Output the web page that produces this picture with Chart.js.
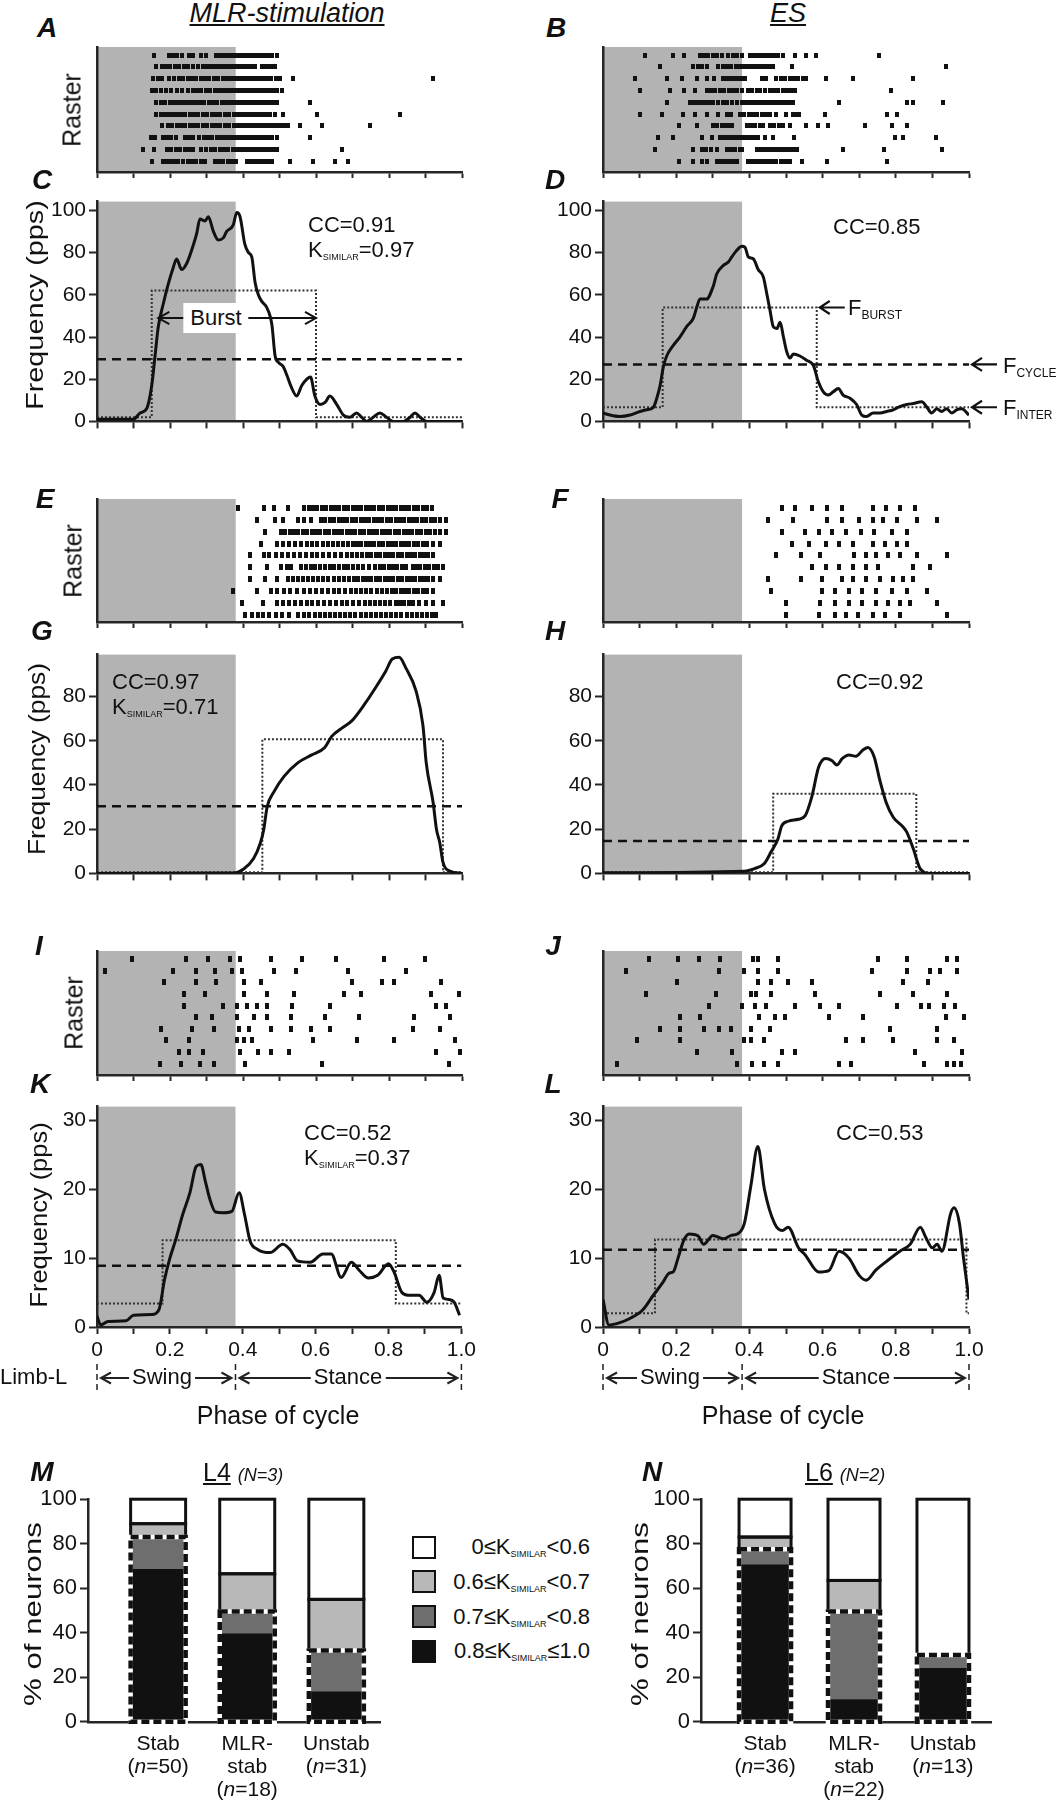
<!DOCTYPE html>
<html>
<head>
<meta charset="utf-8">
<script src="https://cdn.jsdelivr.net/npm/chart.js@4.4.1/dist/chart.umd.min.js"></script>
<style>
html, body { margin: 0; padding: 0; background: #fff; }
#fig { position: relative; width: 1061px; height: 1800px; overflow: hidden; font-family: 'Liberation Sans', Arial, Helvetica, sans-serif; color: #111; }
#fig canvas { position: absolute; z-index: 1; }
.t { position: absolute; z-index: 2; white-space: nowrap; line-height: 1; }
.t sub { font-size: 9px; vertical-align: -3px; line-height: 0; }
.t sub.f { font-size: 12px; vertical-align: -4px; }
.box { position: absolute; z-index: 2; box-sizing: border-box; width: 24px; height: 23px; border: 2px solid #111; }
</style>
</head>
<body>
<div id="fig"></div>
<script>
// ---- data ----
const swingEnd = 0.38;

// raster spike phases (x1000), one list per sweep, top sweep first
const rasterA = [
  [156,196,208,220,232,252,264,285,298,325,336,347,358,369,380,390,400,410,420,430,440,450,460,470,480,492],
  [163,178,190,200,215,226,238,250,262,278,290,300,312,322,332,342,352,362,372,382,392,402,412,422,432,452,462,472,482,488],
  [154,166,178,196,210,224,236,248,260,272,284,296,308,320,332,344,356,366,376,386,396,406,416,426,436,446,456,466,476,490,502,538,920],
  [150,162,176,190,202,220,234,250,262,274,286,298,310,322,334,346,356,366,376,386,396,406,416,426,436,446,456,466,476,486,492,506],
  [163,175,187,200,210,220,230,240,250,260,270,282,294,306,318,330,342,354,364,374,384,394,404,414,424,434,444,454,464,474,484,492,584],
  [163,174,185,196,207,218,230,242,254,266,278,290,302,314,326,338,350,362,374,384,394,404,414,424,434,444,454,464,474,488,509,602,830],
  [177,194,206,218,230,242,254,266,278,290,302,314,326,338,350,362,374,384,394,404,414,424,434,444,454,464,474,484,494,504,514,524,556,616,748],
  [147,158,180,192,204,216,240,252,264,280,292,304,316,328,340,350,360,370,380,390,400,410,420,430,440,450,460,470,480,492,584],
  [125,156,192,204,216,228,240,252,264,285,298,312,324,336,348,360,372,382,392,402,412,422,432,442,452,462,472,482,492,672],
  [152,180,190,200,210,222,236,248,260,272,284,296,322,334,346,358,370,382,410,420,430,440,450,460,470,480,529,593,652,689]
];
const rasterB = [
  [115,192,222,265,276,288,300,312,324,342,354,366,379,402,412,422,432,442,452,462,472,479,493,525,556,582,755],
  [156,247,259,271,283,315,327,339,351,363,374,384,394,404,414,424,434,444,454,465,517,937],
  [87,174,215,256,283,303,329,339,349,359,369,379,388,434,446,474,486,498,511,522,534,546,556,609,682,848],
  [101,183,221,251,283,295,307,319,331,343,355,367,379,397,408,420,429,443,455,467,479,491,503,515,525,786],
  [174,238,249,260,271,282,293,301,315,327,340,352,365,379,389,399,409,419,429,439,449,459,469,479,489,499,510,520,645,830,848,928],
  [101,160,219,251,283,315,338,350,374,386,398,410,420,434,446,456,474,500,520,530,536,607,775,802],
  [209,256,301,312,324,336,347,352,393,404,416,428,438,456,468,480,493,511,555,588,616,716,789,830],
  [151,192,270,299,320,331,342,353,364,375,386,397,408,419,424,443,465,522,798,821,910],
  [142,247,270,282,294,311,338,350,362,374,379,420,431,442,453,464,475,486,497,508,519,529,657,768,925],
  [209,247,270,283,311,322,333,344,355,365,397,408,419,430,441,452,463,474,485,496,507,511,545,611,775]
];
const rasterE = [
  [386,457,485,522,568,580,592,604,616,628,640,652,664,676,688,700,712,724,736,748,760,772,784,796,808,820,832,844,856,868,880,892,904,918],
  [438,488,510,550,566,587,614,626,638,650,662,674,686,698,710,722,734,746,758,770,782,794,806,818,830,842,854,866,878,890,902,914,926,939,957],
  [461,503,516,528,540,552,564,576,588,600,612,624,636,648,660,672,684,696,708,720,732,744,756,768,780,792,804,816,828,840,852,864,876,888,900,912,926,939,957],
  [448,494,510,526,542,558,574,590,604,618,632,646,660,674,688,700,712,724,736,748,760,772,784,796,808,820,832,844,856,868,880,892,904,920,939],
  [420,457,472,490,506,522,540,556,572,588,604,620,636,652,668,684,698,712,726,740,752,764,776,788,800,812,824,836,848,860,872,884,896,908,920],
  [420,466,503,520,531,559,572,585,598,611,624,637,650,663,676,689,702,715,728,744,763,775,787,799,811,823,835,847,865,874,886,898,910,922,934,948],
  [420,461,494,522,536,550,564,578,592,606,620,634,648,662,676,690,704,716,728,740,752,764,776,788,800,812,824,836,848,860,872,884,896,908,920,939],
  [373,438,476,494,512,530,548,566,584,600,616,632,648,664,680,696,710,724,738,752,766,780,794,808,820,832,844,856,868,880,892,904,920],
  [398,454,494,510,526,542,558,574,590,606,622,638,654,670,686,702,718,734,748,762,776,790,804,818,830,842,854,865,883,900,920,948],
  [405,424,440,456,472,490,508,526,550,568,582,596,610,624,638,652,666,680,694,708,722,736,750,764,778,792,806,820,834,848,862,876,890,904,918,929]
];
const rasterF = [
  [488,525,571,612,654,737,774,811,852],
  [451,519,612,654,700,737,765,802,857,913],
  [488,553,590,627,663,704,741,789,830],
  [516,562,608,645,682,737,771,802,830],
  [473,542,592,685,718,746,778,811,857,941],
  [571,608,645,682,718,752,848,894],
  [451,542,597,654,682,718,756,793,820,848],
  [460,597,634,671,708,745,789,830,885],
  [501,592,634,671,708,745,778,811,839,913],
  [501,590,634,663,697,737,771,811,941]
];
const rasterI = [
  [96,244,303,364,392,476,563,656,785,898],
  [21,207,272,323,370,398,485,544,689,846],
  [183,272,327,402,448,698,782,813,942],
  [238,296,402,466,540,676,722,916,991],
  [238,346,383,411,438,466,535,637,930,957],
  [272,314,383,429,466,531,624,717,869,967],
  [175,259,320,388,416,476,531,587,639,865,939],
  [188,253,383,402,424,592,713,815,980],
  [225,253,290,392,442,476,527,930,995],
  [173,231,281,320,405,616,965]
];
const rasterJ = [
  [127,205,261,321,410,423,478,750,830,941,968],
  [62,316,386,423,478,734,830,894,922,968],
  [201,423,460,506,571,820,889],
  [118,308,404,419,460,580,756,848,941],
  [290,381,414,445,525,593,645,802,870,891,931,962],
  [210,266,427,469,497,617,710,937,987],
  [155,210,275,316,349,404,457,784,913],
  [94,210,386,404,441,663,710,793,913,959],
  [257,353,488,525,852,981],
  [38,367,408,441,478,645,678,876,941,959,978]
];

// firing-frequency profiles (phase, pps)
const phaseC = [0,0.05,0.10,0.118,0.136,0.150,0.159,0.168,0.182,0.195,0.209,0.218,0.232,0.246,0.259,0.273,0.282,0.296,0.305,0.319,0.332,0.346,0.355,0.373,0.383,0.392,0.405,0.415,0.424,0.433,0.442,0.451,0.465,0.479,0.488,0.497,0.510,0.520,0.533,0.547,0.561,0.575,0.585,0.597,0.611,0.625,0.638,0.657,0.675,0.693,0.711,0.725,0.739,0.757,0.775,0.793,0.812,0.839,0.858,0.871,0.885,0.903,1.0];
const freqC  = [1,1,1,4,6,17,31,45,56,65,73,77,72,75,81,89,96,95,97,90,86,87,90,93,99,97,84,80,78,66,60,57,54,46,31,28,26,22,16,12,17,20,21,12,8,9,12,8,3,2,4,2,0,2,4,2,0,0,2,4,2,0,0];
const phaseD = [0,0.019,0.046,0.074,0.101,0.119,0.137,0.147,0.156,0.165,0.174,0.192,0.210,0.229,0.247,0.256,0.265,0.283,0.301,0.311,0.329,0.342,0.352,0.365,0.379,0.388,0.397,0.411,0.424,0.438,0.447,0.456,0.465,0.475,0.484,0.493,0.502,0.511,0.520,0.538,0.556,0.575,0.588,0.602,0.616,0.629,0.643,0.656,0.675,0.693,0.707,0.720,0.738,0.757,0.775,0.793,0.811,0.830,0.848,0.871,0.884,0.898,0.912,0.925,0.939,0.953,0.966,0.980,1.0];
const freqD  = [4,3,2.3,3,4.7,5.5,6.5,11,17,26,31,36,40,45,49,54,58,58,64,70,74,75.5,78,81,83,82.5,78,77,72,68.5,61,53,45,44,47,40,33,30,32,31,29,26.5,19,14,12.5,14,15.6,12.5,11,8,3,2.3,4,4,4.7,5.5,7,8,8.5,9.3,7,4,6,4.7,6,4,5.5,6,3];
const phaseG = [0,0.374,0.402,0.429,0.448,0.457,0.466,0.485,0.513,0.550,0.587,0.624,0.643,0.670,0.698,0.735,0.763,0.791,0.809,0.828,0.846,0.874,0.893,0.902,0.921,0.930,0.939,0.948,0.967,1.0];
const freqG  = [0,0.2,2,6.7,14,20,30,37,44,50,53.5,57,62,65.6,69,77,84,91.5,97,97.8,93,82.6,67,50,32,20,14,5,1,0];
const phaseH = [0,0.386,0.414,0.441,0.460,0.478,0.488,0.506,0.534,0.552,0.571,0.589,0.608,0.626,0.639,0.654,0.672,0.691,0.710,0.724,0.741,0.756,0.774,0.793,0.820,0.830,0.848,0.867,0.894,1.0];
const freqH  = [0.3,1,2.2,4.5,10,15.6,21.4,23.6,24.5,26,35,48,52,51,49,52,53.6,53,55.8,57,52.7,42.4,32,25.4,21,18.7,11,2,0,0];
const phaseK = [0,0.01,0.03,0.08,0.10,0.15,0.17,0.185,0.20,0.215,0.235,0.255,0.272,0.285,0.298,0.31,0.325,0.345,0.37,0.39,0.405,0.42,0.44,0.475,0.51,0.53,0.55,0.585,0.62,0.643,0.67,0.698,0.72,0.745,0.77,0.80,0.815,0.837,0.86,0.884,0.905,0.925,0.939,0.95,0.965,0.98,0.995];
const freqK  = [1.6,0.3,0.8,0.9,1.7,1.8,2.5,6.8,10,12.5,16.3,19.5,23.3,23.6,21,18.5,16.7,16.6,16.8,19.5,16.3,12.5,11.3,10.8,12,11.2,9.6,9.4,10.6,10.6,7.2,9.4,8.2,7.1,7.5,9.2,8,5,4.6,4.6,3.6,5,7.5,4.2,4,3.6,1.7];
const phaseL = [0,0.016,0.044,0.072,0.109,0.136,0.164,0.18,0.192,0.205,0.22,0.235,0.26,0.275,0.30,0.33,0.35,0.367,0.386,0.404,0.423,0.441,0.469,0.49,0.506,0.534,0.552,0.589,0.617,0.645,0.672,0.70,0.719,0.746,0.774,0.811,0.839,0.867,0.882,0.90,0.913,0.926,0.95,0.959,0.974,0.985,1.0];
const freqL  = [4,0.3,0.6,1.2,2.5,4.5,6.5,7.8,8,10,12.5,13.5,13.2,12,13.3,12.8,13.3,13.5,15,20.5,26.2,20,15,14,14.5,11.5,10.5,8,8.2,11,10,7.5,6.8,8.3,9.5,11,12,14.5,13,11.5,12,11,16.5,17.3,15,10,4];

// burst / inter-burst step profiles and mean cycle frequency
const stepC_x = [0,0.15,0.15,0.60,0.60,1];     const stepC_y = [2,2,62,62,2,2];
const stepD_x = [0,0.163,0.163,0.584,0.584,1]; const stepD_y = [6.7,6.7,54,54,6.7,6.7];
const stepG_x = [0,0.453,0.453,0.948,0.948,1]; const stepG_y = [0.5,0.5,60.7,60.7,0.5,0.5];
const stepH_x = [0,0.465,0.465,0.856,0.856,1]; const stepH_y = [0.5,0.5,36,36,0.5,0.5];
const stepK_x = [0,0.18,0.18,0.82,0.82,1];     const stepK_y = [3.4,3.4,12.6,12.6,3.4,3.4];
const stepL_x = [0,0.142,0.142,0.993,0.993,1]; const stepL_y = [2,2,12.7,12.7,2,2];
const fCycle = { C: 29.5, D: 27, G: 30.4, H: 14.7, K: 8.9, L: 11.2 };

// y tick labels
const ticksCD = [0, 20, 40, 60, 80, 100];
const ticksGH = [0, 20, 40, 60, 80];
const ticksKL = [0, 10, 20, 30];
const ticksPct = [0, 20, 40, 60, 80, 100];

// K_SIMILAR distribution (% of neurons), bins from most to least similar
const groups = [['Stab'], ['MLR-', 'stab'], ['Unstab']];
const nL4 = [50, 18, 31];
const nL6 = [36, 22, 13];
const l4High = [68.5, 39.5, 13.5];
const l4Mid  = [14.5, 10, 18.5];
const l4Low  = [6, 17, 23];
const l4Rest = [11, 33.5, 45];
const l6High = [70.5, 10, 24];
const l6Mid  = [7, 39.5, 6];
const l6Low  = [5.5, 14, 0];
const l6Rest = [17, 36.5, 70];
const binLabels = ['0.8≤K<sub>SIMILAR</sub>≤1.0', '0.7≤K<sub>SIMILAR</sub>&lt;0.8', '0.6≤K<sub>SIMILAR</sub>&lt;0.7', '0≤K<sub>SIMILAR</sub>&lt;0.6'];
const binColors = ['#111111', '#6e6e6e', '#b8b8b8', '#ffffff'];

// ---- helpers ----
Chart.defaults.font.family = "'Liberation Sans', Arial, Helvetica, sans-serif";
Chart.defaults.font.size = 21;
Chart.defaults.color = '#111';

const fig = document.getElementById('fig');
const axisColor = '#262626';

function xy(xs, ys) { return xs.map((x, i) => ({ x: x, y: ys[i] })); }

function rasterPoints(rows) {
  const pts = [];
  rows.forEach((row, i) => row.forEach(p => pts.push({ x: p / 1000, y: rows.length - i })));
  return pts;
}

function dotImage(w, h) {
  const c = document.createElement('canvas');
  c.width = w; c.height = h;
  const g = c.getContext('2d');
  g.fillStyle = '#111';
  g.fillRect(0, 0, w, h);
  return c;
}

function addCanvas(left, top, width, height) {
  const c = document.createElement('canvas');
  c.width = width; c.height = height;
  c.style.left = left + 'px'; c.style.top = top + 'px';
  c.style.width = width + 'px'; c.style.height = height + 'px';
  fig.appendChild(c);
  return c;
}

function put(html, x, cy, size, css) {
  const d = document.createElement('div');
  d.className = 't';
  d.innerHTML = html;
  d.style.fontSize = size + 'px';
  d.style.left = x + 'px';
  d.style.top = (cy - size / 2) + 'px';
  Object.assign(d.style, css || {});
  fig.appendChild(d);
  return d;
}

function putRot(text, cx, cy, size, stretch) {
  const d = put(text, cx, cy, size);
  d.style.top = cy + 'px';
  d.style.transform = 'translate(-50%, -50%) rotate(-90deg) scaleX(' + stretch + ')';
  return d;
}

function arrowLine(ctx, a, b, y, h) {
  ctx.beginPath();
  ctx.moveTo(a, y); ctx.lineTo(b, y);
  ctx.moveTo(a + h, y - h * 0.55); ctx.lineTo(a, y); ctx.lineTo(a + h, y + h * 0.55);
  ctx.moveTo(b - h, y - h * 0.55); ctx.lineTo(b, y); ctx.lineTo(b - h, y + h * 0.55);
  ctx.stroke();
}

// swing phase shading
const phaseShade = {
  id: 'phaseShade',
  beforeDraw(chart, args, opts) {
    const { ctx, chartArea: a, scales: { x } } = chart;
    const x1 = x.getPixelForValue(opts.until);
    ctx.save();
    ctx.fillStyle = '#b3b3b3';
    ctx.fillRect(a.left, a.top, x1 - a.left, a.bottom - a.top);
    ctx.restore();
  }
};

// double-headed span arrow ("Burst")
const spanArrow = {
  id: 'spanArrow',
  afterDatasetsDraw(chart, args, opts) {
    if (!opts.span) return;
    const { ctx, scales: { x, y } } = chart;
    ctx.save();
    ctx.strokeStyle = '#111'; ctx.lineWidth = 2;
    arrowLine(ctx, x.getPixelForValue(opts.span[0]), x.getPixelForValue(opts.span[1]), y.getPixelForValue(opts.span[2]), 11);
    ctx.restore();
  }
};

// left-pointing arrows marking the F levels
const levelArrows = {
  id: 'levelArrows',
  afterDraw(chart, args, opts) {
    if (!opts.items) return;
    const { ctx, scales: { x, y } } = chart;
    ctx.save();
    ctx.strokeStyle = '#111'; ctx.lineWidth = 2.2;
    opts.items.forEach(it => {
      const a = x.getPixelForValue(it[0]) + 3, py = y.getPixelForValue(it[1]);
      ctx.beginPath();
      ctx.moveTo(a, py); ctx.lineTo(a + 25, py);
      ctx.moveTo(a + 10, py - 6.5); ctx.lineTo(a, py); ctx.lineTo(a + 10, py + 6.5);
      ctx.stroke();
    });
    ctx.restore();
  }
};

// swing / stance row under the phase axis
const limbRow = {
  id: 'limbRow',
  afterDraw(chart, args, opts) {
    if (!opts.marks) return;
    const { ctx, scales: { x } } = chart;
    const top = x.bottom + 1;
    const px = opts.marks.map(m => x.getPixelForValue(m));
    ctx.save();
    ctx.strokeStyle = '#222'; ctx.lineWidth = 1.5; ctx.setLineDash([6, 4]);
    px.forEach(p => { ctx.beginPath(); ctx.moveTo(p, top); ctx.lineTo(p, top + 30); ctx.stroke(); });
    ctx.setLineDash([]); ctx.lineWidth = 2;
    for (let i = 0; i < px.length - 1; i++) arrowLine(ctx, px[i] + 4, px[i + 1] - 4, top + 14, 10);
    ctx.restore();
  }
};

// outlines of the stacked bars: solid for dissimilar bins, dashed around similar ones
const binOutline = {
  id: 'binOutline',
  afterDatasetsDraw(chart) {
    const { ctx, scales: { y } } = chart;
    const sets = chart.data.datasets;
    const meta = chart.getDatasetMeta(0);
    meta.data.forEach((el, j) => {
      const w = el.width, left = el.x - w / 2;
      const v = sets.map(s => s.data[j].y);
      const ySim = y.getPixelForValue(v[0] + v[1]);
      const yLow = y.getPixelForValue(v[0] + v[1] + v[2]);
      const yTop = y.getPixelForValue(v[0] + v[1] + v[2] + v[3]);
      const y0 = y.getPixelForValue(0);
      ctx.save();
      ctx.strokeStyle = '#111'; ctx.lineWidth = 3;
      if (v[2] > 0) ctx.strokeRect(left, yLow, w, ySim - yLow);
      ctx.strokeRect(left, yTop, w, yLow - yTop);
      ctx.lineWidth = 4.5;
      ctx.strokeStyle = '#fff';
      ctx.strokeRect(left, ySim, w, y0 - ySim);
      ctx.strokeStyle = '#111'; ctx.setLineDash([8, 4]);
      ctx.strokeRect(left, ySim, w, y0 - ySim);
      ctx.restore();
    });
  }
};

// ---- layout ----
const cols = [
  { left: 0, width: 480, axisW: 97, padR: 18 },
  { left: 520, width: 541, axisW: 83, padR: 92 }
];

function phaseAxis(h, tickLen, labels) {
  return {
    type: 'linear', min: 0, max: 1,
    ticks: {
      stepSize: 0.1, display: labels, autoSkip: false, maxRotation: 0, padding: 4,
      callback: v => { const k = Math.round(v * 10); return k % 2 ? '' : (k === 0 ? '0' : (k / 10).toFixed(1)); }
    },
    grid: { display: true, drawOnChartArea: false, drawTicks: true, tickLength: tickLen, tickWidth: 2, tickColor: axisColor },
    border: { display: true, color: axisColor, width: 2.5 },
    afterFit: s => { s.height = h; }
  };
}

function rasterChart(col, top, plotH, rows, yRange, dot) {
  const c = cols[col];
  const padT = 4, axisH = 8;
  const canvas = addCanvas(c.left, top - padT, c.width, padT + plotH + axisH);
  return new Chart(canvas, {
    type: 'scatter',
    data: { datasets: [{ data: rasterPoints(rows), pointStyle: dot, pointRadius: 3, pointHoverRadius: 3 }] },
    options: {
      responsive: false, animation: false, events: [],
      layout: { padding: { left: 0, top: padT, right: c.padR, bottom: 0 } },
      plugins: { legend: { display: false }, tooltip: { enabled: false }, phaseShade: { until: swingEnd } },
      scales: {
        x: phaseAxis(axisH, 6, false),
        y: {
          min: yRange[0], max: yRange[1],
          ticks: { display: false }, grid: { display: false },
          border: { display: true, color: axisColor, width: 2.5 },
          afterFit: s => { s.width = c.axisW; }
        }
      }
    },
    plugins: [phaseShade]
  });
}

function freqChart(col, top, plotH, d) {
  const c = cols[col];
  const padT = 14;
  const axisH = d.labels ? 36 : 14;
  const padB = d.limb ? 42 : 0;
  const canvas = addCanvas(c.left, top - padT, c.width, padT + plotH + axisH + padB);
  return new Chart(canvas, {
    type: 'line',
    data: {
      datasets: [
        { data: xy(d.x, d.y), borderColor: '#111', borderWidth: 3, pointRadius: 0, cubicInterpolationMode: 'monotone', order: 0 },
        { data: xy([0, 1], [d.cycle, d.cycle]), borderColor: '#111', borderWidth: 2.5, borderDash: [9, 6], pointRadius: 0, order: 1 },
        { data: xy(d.stepX, d.stepY), borderColor: '#333', borderWidth: 2, borderDash: [2, 2], pointRadius: 0, tension: 0, order: 2 }
      ]
    },
    options: {
      responsive: false, animation: false, events: [],
      layout: { padding: { left: 0, top: padT, right: c.padR, bottom: padB } },
      plugins: {
        legend: { display: false }, tooltip: { enabled: false },
        phaseShade: { until: swingEnd },
        spanArrow: { span: d.span },
        levelArrows: { items: d.arrows },
        limbRow: { marks: d.limb ? [0, swingEnd, 1] : null }
      },
      scales: {
        x: phaseAxis(axisH, 7, !!d.labels),
        y: {
          min: 0, max: d.ymax,
          ticks: { padding: 3 },
          afterBuildTicks: s => { s.ticks = d.yticks.map(v => ({ value: v })); },
          grid: { display: true, drawOnChartArea: false, tickLength: 8, tickWidth: 2, tickColor: axisColor },
          border: { display: true, color: axisColor, width: 2.5 },
          afterFit: s => { s.width = c.axisW; }
        }
      }
    },
    plugins: [phaseShade, spanArrow, levelArrows, limbRow]
  });
}

function binChart(left, axisW, plotRight, series, xRange, barW, counts) {
  const padT = 14, padB = 14, axisH = 2, plotH = 225, top = 1497;
  const width = plotRight - left + 6;
  const canvas = addCanvas(left, top - padT, width, padT + plotH + axisH + padB);
  const chart = new Chart(canvas, {
    type: 'bar',
    data: {
      datasets: series.map((vals, i) => ({
        data: vals.map((v, j) => ({ x: j, y: v })),
        backgroundColor: binColors[i], borderWidth: 0, barThickness: barW
      }))
    },
    options: {
      responsive: false, animation: false, events: [],
      layout: { padding: { left: 0, top: padT, right: 6, bottom: padB } },
      plugins: { legend: { display: false }, tooltip: { enabled: false } },
      scales: {
        x: {
          type: 'linear', min: xRange[0], max: xRange[1], stacked: true, offset: false,
          ticks: { display: false }, grid: { display: false },
          border: { display: true, color: axisColor, width: 2.5 },
          afterFit: s => { s.height = axisH; }
        },
        y: {
          stacked: true, min: 0, max: 100,
          ticks: { padding: 3, font: { size: 22 } },
          afterBuildTicks: s => { s.ticks = ticksPct.map(v => ({ value: v })); },
          grid: { display: true, drawOnChartArea: false, tickLength: 8, tickWidth: 2, tickColor: axisColor },
          border: { display: true, color: axisColor, width: 2.5 },
          afterFit: s => { s.width = axisW; }
        }
      }
    },
    plugins: [binOutline]
  });
  // category labels under each bar
  chart.getDatasetMeta(0).data.forEach((el, j) => {
    const lines = groups[j].concat(['(<i>n</i>=' + counts[j] + ')']);
    lines.forEach((ln, k) => put(ln, left + el.x, 1742 + 23 * k, 21, { transform: 'translateX(-50%)' }));
  });
  return chart;
}

// ---- charts ----
const dotBig = dotImage(4, 5);
const dotTall = dotImage(4, 6);

rasterChart(0, 47, 125, rasterA, [0.09, 10.68], dotBig);
rasterChart(1, 47, 125, rasterB, [0.09, 10.68], dotBig);
freqChart(0, 200, 223, { x: phaseC, y: freqC, cycle: fCycle.C, stepX: stepC_x, stepY: stepC_y, ymax: 104.2, yticks: ticksCD, span: [0.168, 0.6, 49] });
freqChart(1, 200, 223, { x: phaseD, y: freqD, cycle: fCycle.D, stepX: stepD_x, stepY: stepD_y, ymax: 104.2, yticks: ticksCD,
  arrows: [[stepD_x[3], stepD_y[3]], [1, fCycle.D], [1, stepD_y[5]]] });

rasterChart(0, 499, 123, rasterE, [0.37, 10.76], dotTall);
rasterChart(1, 499, 123, rasterF, [0.37, 10.76], dotTall);
freqChart(0, 653, 222, { x: phaseG, y: freqG, cycle: fCycle.G, stepX: stepG_x, stepY: stepG_y, ymax: 99, yticks: ticksGH });
freqChart(1, 653, 222, { x: phaseH, y: freqH, cycle: fCycle.H, stepX: stepH_x, stepY: stepH_y, ymax: 99, yticks: ticksGH });

rasterChart(0, 951, 124, rasterI, [0.01, 10.71], dotTall);
rasterChart(1, 951, 124, rasterJ, [0.01, 10.71], dotTall);
freqChart(0, 1105, 222, { x: phaseK, y: freqK, cycle: fCycle.K, stepX: stepK_x, stepY: stepK_y, ymax: 32, yticks: ticksKL, labels: true, limb: true });
freqChart(1, 1105, 222, { x: phaseL, y: freqL, cycle: fCycle.L, stepX: stepL_x, stepY: stepL_y, ymax: 32, yticks: ticksKL, labels: true, limb: true });

binChart(0, 88, 380, [l4High, l4Mid, l4Low, l4Rest], [-0.787, 2.49], 55, nL4);
binChart(600, 101, 991, [l6High, l6Mid, l6Low, l6Rest], [-0.72, 2.54], 52, nL6);

// ---- text ----
const center = { transform: 'translateX(-50%)' };
const letter = { fontWeight: 'bold', fontStyle: 'italic', transform: 'translateX(-50%)' };

put('MLR-stimulation', 287, 13, 27, { fontStyle: 'italic', textDecoration: 'underline', transform: 'translateX(-50%)' });
put('ES', 788, 13, 27, { fontStyle: 'italic', textDecoration: 'underline', transform: 'translateX(-50%)' });

[['A', 47, 28], ['B', 556, 28], ['C', 42, 180], ['D', 555, 180], ['E', 45, 499], ['F', 560, 499],
 ['G', 42, 631], ['H', 555, 631], ['I', 39, 946], ['J', 553, 946], ['K', 40, 1084], ['L', 553, 1084],
 ['M', 42, 1472], ['N', 652, 1472]].forEach(l => put(l[0], l[1], l[2], 28, letter));

putRot('Raster', 72, 110, 25, 1);
putRot('Raster', 73, 561, 25, 1);
putRot('Raster', 74, 1013, 25, 1);
putRot('Frequency (pps)', 35, 305, 24, 1.2);
putRot('Frequency (pps)', 37, 759, 24, 1.1);
putRot('Frequency (pps)', 39, 1215, 24, 1.06);
putRot('% of neurons', 33, 1614, 24, 1.3);
putRot('% of neurons', 640, 1614, 24, 1.3);

put('CC=0.91', 308, 225, 22);
put('K<sub>SIMILAR</sub>=0.97', 308, 250, 22);
put('Burst', 216, 318, 22, { background: '#fff', padding: '4px 7px', marginTop: '-4px', transform: 'translateX(-50%)' });
put('CC=0.85', 833, 227, 22);
put('F<sub class="f">BURST</sub>', 848, 308, 22);
put('F<sub class="f">CYCLE</sub>', 1003, 366, 22);
put('F<sub class="f">INTER</sub>', 1003, 408, 22);
put('CC=0.97', 112, 682, 22);
put('K<sub>SIMILAR</sub>=0.71', 112, 707, 22);
put('CC=0.92', 836, 682, 22);
put('CC=0.52', 304, 1133, 22);
put('K<sub>SIMILAR</sub>=0.37', 304, 1158, 22);
put('CC=0.53', 836, 1133, 22);

put('Limb-L', 0, 1377, 22);
const gap = { background: '#fff', padding: '0 3px', transform: 'translateX(-50%)' };
put('Swing', 162, 1377, 22, gap);
put('Stance', 348, 1377, 22, gap);
put('Swing', 670, 1377, 22, gap);
put('Stance', 856, 1377, 22, gap);
put('Phase of cycle', 278, 1415, 25, center);
put('Phase of cycle', 783, 1415, 25, center);

put('<u>L4</u> <i style="font-size:18px">(N=3)</i>', 203, 1472, 25);
put('<u>L6</u> <i style="font-size:18px">(N=2)</i>', 805, 1472, 25);

// legend, least similar bin on top
[3, 2, 1, 0].forEach((b, r) => {
  const cy = 1547 + 34.8 * r;
  const box = document.createElement('div');
  box.className = 'box';
  box.style.left = '412px';
  box.style.top = (cy - 11.5) + 'px';
  box.style.background = binColors[b];
  fig.appendChild(box);
  put(binLabels[b], 0, cy, 22, { left: 'auto', right: (1061 - 590) + 'px' });
});
</script>
</body>
</html>
